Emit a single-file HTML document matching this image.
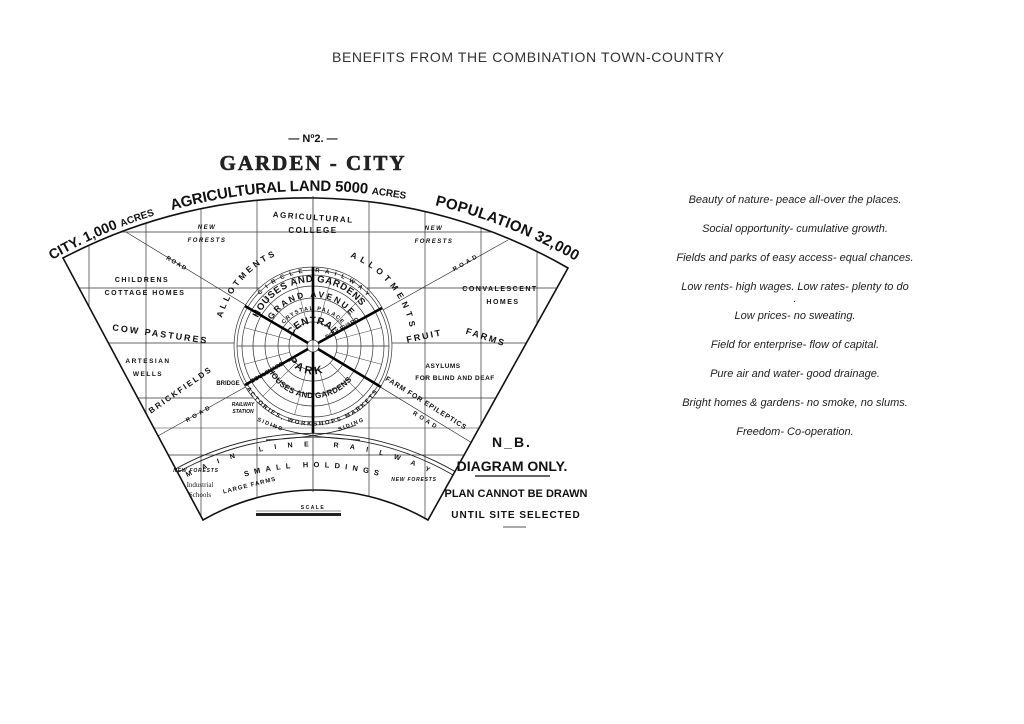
<!DOCTYPE html>
<html><head><meta charset="utf-8"><style>
html,body{margin:0;padding:0;background:#fff;width:1024px;height:724px;overflow:hidden}
svg{display:block}
.d{font-family:"Liberation Sans",sans-serif;font-weight:bold;fill:#111}
.r{font-family:"Liberation Sans",sans-serif;font-style:italic;font-size:11px;fill:#222}
</style></head><body>
<svg width="1024" height="724" viewBox="0 0 1024 724" xmlns="http://www.w3.org/2000/svg">
<defs>
<clipPath id="fan"><path d="M63,258 A523,523 0 0 1 568,268 L428,520 A226,226 0 0 0 203,520 Z"/></clipPath>
<path id="top" d="M52,260 A527,527 0 0 1 574,260"/>
<path id="mainl" d="M170,487 A272,272 0 0 1 456,487"/>
<path id="small" d="M240,478 A251,251 0 0 1 386,478"/>
<path id="allL" d="M222,318 A97,97 0 0 1 275,256"/>
<path id="allR" d="M350,257 A97,97 0 0 1 410,328"/>
<path id="circ" d="M260,295 A73,73 0 0 1 366,295"/>
<path id="hg" d="M258,318 A60,60 0 0 1 368,318"/>
<path id="ga" d="M272,320 A48,48 0 0 1 354,320"/>
<path id="cp" d="M284,324 A37,37 0 0 1 342,324"/>
<path id="cen" d="M292,336 A24,24 0 0 1 334,336"/>
<path id="park" d="M288,360 A29,29 0 0 0 338,360"/>
<path id="hgb" d="M268,370 A50,50 0 0 0 358,370"/>
<path id="fac" d="M244,384 A78,78 0 0 0 382,384"/>
</defs>

<text x="332" y="62" textLength="392" style="font-family:'Liberation Sans',sans-serif;font-size:14px;fill:#333">BENEFITS FROM THE COMBINATION TOWN-COUNTRY</text>

<text x="313" y="142" text-anchor="middle" class="d" font-size="11">— Nº2. —</text>
<text x="313" y="170" text-anchor="middle" style="font-family:'Liberation Serif',serif;font-weight:bold;font-size:21px;fill:#222;letter-spacing:2px;stroke:#222;stroke-width:0.6">GARDEN - CITY</text>

<g clip-path="url(#fan)" stroke="#333" stroke-width="0.7" fill="none">
<path d="M89,200V530M146,200V530M201,200V530M257,200V530M369,200V530M425,200V530M481,200V530M537,200V530"/>
<path d="M40,232H590M40,288H590M40,343H590M40,398H590M40,455H590"/>
<path d="M126,232 L500,460M508,240 L140,446"/>
<path d="M40,428H590" stroke-width="0.5"/>
</g>
<g clip-path="url(#fan)" stroke="#222" fill="none" stroke-width="0.9">
<path d="M100,530 A283,283 0 0 1 526,530"/>
<path d="M106,530 A277,277 0 0 1 520,530"/>
<path d="M270,425 Q300,437 360,440 M356,425 Q326,437 266,440"/>
</g>
<path d="M63,258 A523,523 0 0 1 568,268 L428,520 A226,226 0 0 0 203,520 Z" fill="none" stroke="#111" stroke-width="1.6"/>
<line x1="313" y1="196" x2="313" y2="492" stroke="#333" stroke-width="0.8"/>

<g fill="#fff" stroke="#333" stroke-width="0.7">
<circle cx="313" cy="346" r="79"/>
</g>
<g fill="none" stroke="#333" stroke-width="0.7">
<circle cx="313" cy="346" r="76"/><circle cx="313" cy="346" r="71"/>
<circle cx="313" cy="346" r="60"/><circle cx="313" cy="346" r="48"/>
<circle cx="313" cy="346" r="35"/><circle cx="313" cy="346" r="24"/>
<circle cx="313" cy="346" r="6"/>
<path d="M237,346H389M313,270V422"/>
</g>
<g stroke="#444" stroke-width="0.5">
<g id="sp"><line x1="337" y1="346" x2="384" y2="346"/></g>
<use href="#sp" transform="rotate(15 313 346)"/><use href="#sp" transform="rotate(45 313 346)"/><use href="#sp" transform="rotate(75 313 346)"/>
<use href="#sp" transform="rotate(105 313 346)"/><use href="#sp" transform="rotate(135 313 346)"/><use href="#sp" transform="rotate(165 313 346)"/>
<use href="#sp" transform="rotate(195 313 346)"/><use href="#sp" transform="rotate(225 313 346)"/><use href="#sp" transform="rotate(255 313 346)"/>
<use href="#sp" transform="rotate(285 313 346)"/><use href="#sp" transform="rotate(315 313 346)"/><use href="#sp" transform="rotate(345 313 346)"/>
</g>
<g stroke="#000" stroke-width="2.6">
<line x1="313" y1="340" x2="313" y2="267"/><line x1="313" y1="352" x2="313" y2="433"/>
<line x1="308" y1="343" x2="245" y2="306"/><line x1="318" y1="343" x2="382" y2="308"/>
<line x1="318" y1="349" x2="381" y2="387"/><line x1="308" y1="349" x2="245" y2="385"/>
</g>

<text class="d" font-size="15"><textPath href="#top" startOffset="0"><tspan font-size="14">CITY. 1,000 </tspan><tspan font-size="10">ACRES</tspan></textPath></text>
<text class="d" font-size="15"><textPath href="#top" startOffset="130" textLength="236"><tspan>AGRICULTURAL LAND  5000 </tspan><tspan font-size="10">ACRES</tspan></textPath></text>
<text class="d" font-size="15"><textPath href="#top" startOffset="396" textLength="152">POPULATION 32,000</textPath></text>

<text class="d" font-size="7"><textPath href="#mainl" startOffset="20" textLength="250">MAIN   LINE   RAILWAY</textPath></text>
<text class="d" font-size="7.5"><textPath href="#small" startOffset="5" textLength="135">SMALL HOLDINGS</textPath></text>
<text class="d" font-size="8.5"><textPath href="#allL" textLength="84">ALLOTMENTS</textPath></text>
<text class="d" font-size="8.5"><textPath href="#allR" textLength="96">ALLOTMENTS</textPath></text>
<text class="d" font-size="6"><textPath href="#circ" textLength="120">CIRCLE   RAILWAY</textPath></text>
<text class="d" font-size="9.5"><textPath href="#hg" textLength="125">HOUSES AND GARDENS</textPath></text>
<text class="d" font-size="8.5"><textPath href="#ga" textLength="92">GRAND AVENUE</textPath></text>
<text class="d" font-size="5.5"><textPath href="#cp" textLength="66">CRYSTAL PALACE</textPath></text>
<text class="d" font-size="10"><textPath href="#cen" textLength="50">CENTRAL</textPath></text>
<text class="d" font-size="11"><textPath href="#park" textLength="40">PARK</textPath></text>
<text class="d" font-size="8"><textPath href="#hgb" textLength="100">HOUSES AND GARDENS</textPath></text>
<text class="d" font-size="6"><textPath href="#fac" textLength="160">FACTORIES, WORKSHOPS MARKETS</textPath></text>

<g class="d" font-size="6" text-anchor="middle">
<text x="343" y="330" transform="rotate(-30 343 330)">BOULEVARD</text>
<text x="268" y="374" transform="rotate(-30 268 374)">BOULEVARD</text>
</g>

<g class="d" text-anchor="middle" font-size="7" letter-spacing="1.5">
<text x="313" y="220" font-size="8" transform="rotate(4 313 220)">AGRICULTURAL</text>
<text x="313" y="233" font-size="8">COLLEGE</text>
<text x="207" y="229" font-style="italic" font-size="6">NEW</text>
<text x="207" y="242" font-style="italic" font-size="6">FORESTS</text>
<text x="434" y="230" font-style="italic" font-size="6">NEW</text>
<text x="434" y="243" font-style="italic" font-size="6">FORESTS</text>
<text x="176" y="265" font-size="6" transform="rotate(30 176 265)">ROAD</text>
<text x="142" y="282">CHILDRENS</text>
<text x="145" y="295">COTTAGE HOMES</text>
<text x="160" y="337" font-size="9" letter-spacing="2" transform="rotate(8 160 337)">COW PASTURES</text>
<text x="148" y="363" font-size="6.5">ARTESIAN</text>
<text x="148" y="376" font-size="6.5">WELLS</text>
<text x="182" y="392" font-size="8" letter-spacing="2" transform="rotate(-35 182 392)">BRICKFIELDS</text>
<text x="228" y="385" font-size="6" letter-spacing="0">BRIDGE</text>
<text x="200" y="415" font-size="6" letter-spacing="3" transform="rotate(-30 200 415)">ROAD</text>
<text x="243" y="406" font-size="5" letter-spacing="0" font-style="italic">RAILWAY</text>
<text x="243" y="413" font-size="5" letter-spacing="0" font-style="italic">STATION</text>
<text x="270" y="426" font-size="5.5" transform="rotate(22 270 426)">SIDING</text>
<text x="352" y="426" font-size="5.5" transform="rotate(-22 352 426)">SIDING</text>
<text x="467" y="264" font-size="6" letter-spacing="3" transform="rotate(-30 467 264)">ROAD</text>
<text x="500" y="291">CONVALESCENT</text>
<text x="503" y="304">HOMES</text>
<text x="425" y="339" font-size="9" letter-spacing="2" transform="rotate(-12 425 339)">FRUIT</text>
<text x="485" y="340" font-size="9" letter-spacing="2" transform="rotate(18 485 340)">FARMS</text>
<text x="443" y="368" font-size="6.5" letter-spacing="0.5">ASYLUMS</text>
<text x="455" y="380" font-size="6.5" letter-spacing="0.5">FOR BLIND AND DEAF</text>
<text x="425" y="405" font-size="7" letter-spacing="0.8" transform="rotate(32 425 405)">FARM FOR EPILEPTICS</text>
<text x="425" y="422" font-size="6" letter-spacing="3" transform="rotate(32 425 422)">ROAD</text>
<text x="196" y="472" font-size="5" font-style="italic" letter-spacing="0.8">NEW FORESTS</text>
<text x="414" y="481" font-size="5" font-style="italic" letter-spacing="0.8">NEW FORESTS</text>
<text x="250" y="487" font-size="6" letter-spacing="1" transform="rotate(-14 250 487)">LARGE FARMS</text>
<text x="313" y="509" font-size="5">SCALE</text>
</g>
<g style="font-family:'Liberation Serif',serif;font-size:7px;fill:#222" text-anchor="middle">
<text x="200" y="487">Industrial</text>
<text x="200" y="497">Schools</text>
</g>
<rect x="256" y="513" width="85" height="3" fill="#222"/>
<line x1="256" y1="511" x2="341" y2="511" stroke="#222" stroke-width="0.6"/>

<g class="d" text-anchor="middle">
<text x="512" y="447" font-size="14" letter-spacing="2">N_B.</text>
<text x="512" y="471" font-size="14">DIAGRAM  ONLY.</text>
<line x1="475" y1="476" x2="550" y2="476" stroke="#333" stroke-width="1.5"/>
<text x="516" y="497" font-size="11">PLAN CANNOT BE DRAWN</text>
<text x="516" y="518" font-size="10" letter-spacing="1">UNTIL SITE SELECTED</text>
<line x1="503" y1="527" x2="526" y2="527" stroke="#555" stroke-width="1"/>
</g>

<g class="r" text-anchor="middle">
<text x="795" y="203">Beauty of nature- peace all-over the places.</text>
<text x="795" y="232">Social opportunity- cumulative growth.</text>
<text x="795" y="261">Fields and parks of easy access- equal chances.</text>
<text x="795" y="290">Low rents- high wages. Low rates- plenty to do</text>
<text x="795" y="302">.</text>
<text x="795" y="319">Low prices- no sweating.</text>
<text x="795" y="348">Field for enterprise- flow of capital.</text>
<text x="795" y="377">Pure air and water- good drainage.</text>
<text x="795" y="406">Bright homes &amp; gardens- no smoke, no slums.</text>
<text x="795" y="435">Freedom- Co-operation.</text>
</g>
</svg>
</body></html>
